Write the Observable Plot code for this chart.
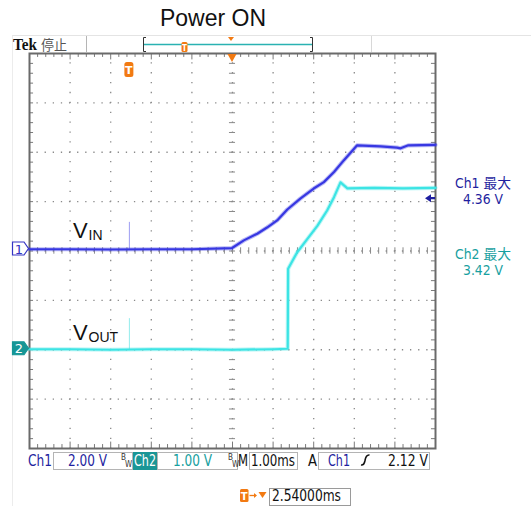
<!DOCTYPE html>
<html><head><meta charset="utf-8">
<script src="https://cdn.jsdelivr.net/npm/d3@7"></script>
<script src="https://cdn.jsdelivr.net/npm/@observablehq/plot@0.6"></script>
<style>
body{margin:0;background:#fff;}
#wrap{position:relative;width:531px;height:506px;overflow:hidden;}
</style></head>
<body><div id="wrap"></div>
<script>
// ---- data (time in ms from left screen edge, volts) ----
const title = "Power ON";
const ch1Time = [0, 1, 2, 3, 4, 4.99, 5.28, 5.61, 5.85, 6.10, 6.35, 6.67, 7.00, 7.25, 7.50, 7.74, 8.07, 8.65, 9.05, 9.14, 9.33, 10];
const ch1Volt = [0.07, 0.07, 0.06, 0.07, 0.07, 0.12, 0.43, 0.70, 0.95, 1.24, 1.68, 2.12, 2.53, 2.79, 3.20, 3.67, 4.28, 4.24, 4.19, 4.16, 4.28, 4.30];
const ch2Time = [0, 1, 2, 3, 4, 5, 6, 6.36, 6.37, 6.59, 6.84, 7.09, 7.33, 7.50, 7.66, 7.83, 8.5, 9.2, 10];
const ch2Volt = [0.01, 0.01, 0.0, 0.01, 0.01, 0.0, 0.01, 0.02, 1.64, 1.97, 2.24, 2.51, 2.82, 3.09, 3.39, 3.27, 3.28, 3.27, 3.28];
const glitchTime = [2.46];
const ch1GlitchVolt = [1.16];
const ch2GlitchVolt = [0.63];
const voltsPerDiv = {ch1: 2, ch2: 1};
const offsetDiv = {ch1: 0, ch2: -2};
const triggerTime = 2.46;
const triggerLevel = 2.12;
const ch1MaxLabel = ["Ch1 最大", "4.36 V"];
const ch2MaxLabel = ["Ch2 最大", "3.42 V"];
const statusLabels = {ch1: "2.00 V", ch2: "1.00 V", time: "1.00ms", trig: "2.12 V", pos: "2.54000ms"};
const traceLabels = [["V", "IN"], ["V", "OUT"]];

const xGrid = [1, 2, 3, 4, 6, 7, 8, 9];
const yGrid = [-3, -2, -1, 1, 2, 3];
const xMinor = d3.range(0, 51).map(i => i * 0.2);
const yMinor = d3.range(-20, 21).map(i => i * 0.2);

const ch1 = ch1Time.map((t, i) => ({t, v: ch1Volt[i]}));
const ch2 = ch2Time.map((t, i) => ({t, v: ch2Volt[i]}));
const y1 = d => d.v / voltsPerDiv.ch1 + offsetDiv.ch1;
const y2 = d => d.v / voltsPerDiv.ch2 + offsetDiv.ch2;

const BLUE = "#3737e2", CYAN = "#3ce4e4", TXTBLUE = "#1f1fa0", TEAL = "#17a0a0", ORANGE = "#f27a12";
const GRID = "#8a8a8a";
const dotH = {stroke: GRID, strokeWidth: 1.3, strokeDasharray: "1.3,6.82", strokeDashoffset: 0.65};
const dotV = {stroke: GRID, strokeWidth: 1.3, strokeDasharray: "1.3,8.58", strokeDashoffset: 0.65};
const isMajor = d => Math.abs(d - Math.round(d)) < 1e-6;

const plot = Plot.plot({
  width: 531, height: 506,
  marginTop: 53, marginBottom: 58, marginLeft: 29, marginRight: 96,
  x: {domain: [0, 10], axis: null},
  y: {domain: [-4, 4], axis: null},
  style: {background: "white", overflow: "visible"},
  marks: [
    Plot.ruleY(yGrid, dotH),
    Plot.ruleX(xGrid, dotV),
    Plot.ruleY([0], dotH),
    Plot.ruleX([5], dotV),
    Plot.ruleX(xMinor, {x: d => d, y1: -0.065, y2: 0.065, stroke: GRID, strokeWidth: 1}),
    Plot.ruleY(yMinor, {y: d => d, x1: 4.925, x2: 5.075, stroke: GRID, strokeWidth: 1}),
    Plot.ruleX(xMinor, {x: d => d, y1: 4, y2: d => isMajor(d) ? 3.87 : 3.92, stroke: "#7a7a7a", strokeWidth: 1}),
    Plot.ruleX(xMinor, {x: d => d, y1: -4, y2: d => isMajor(d) ? -3.87 : -3.92, stroke: "#7a7a7a", strokeWidth: 1}),
    Plot.ruleY(yMinor, {y: d => d, x1: 0, x2: 0.1, stroke: "#7a7a7a", strokeWidth: 1}),
    Plot.ruleY(yMinor, {y: d => d, x1: 10, x2: 9.9, stroke: "#7a7a7a", strokeWidth: 1}),
    Plot.frame({stroke: "#6a6a6a", strokeWidth: 2}),
    // glitches
    Plot.ruleX(glitchTime, {x: d => d, y1: 0.035, y2: (d, i) => ch1GlitchVolt[i] / voltsPerDiv.ch1, stroke: "#9c9cf2", strokeWidth: 1}),
    Plot.ruleX(glitchTime, {x: d => d, y1: -2, y2: (d, i) => ch2GlitchVolt[i] / voltsPerDiv.ch2 + offsetDiv.ch2, stroke: "#92ecec", strokeWidth: 1}),
    // traces
    Plot.line(ch2, {x: "t", y: y2, stroke: CYAN, strokeWidth: 4.2, strokeOpacity: 0.35}),
    Plot.line(ch2, {x: "t", y: y2, stroke: CYAN, strokeWidth: 2.2}),
    Plot.line(ch1, {x: "t", y: y1, stroke: BLUE, strokeWidth: 4.2, strokeOpacity: 0.35}),
    Plot.line(ch1, {x: "t", y: y1, stroke: BLUE, strokeWidth: 2.2}),
    // labels
    Plot.text([traceLabels[0][0]], {x: 1.07, y: 0.271, text: d => d, textAnchor: "start", lineAnchor: "bottom", fontSize: 22, fontFamily: "Liberation Sans, Arial, sans-serif", fill: "#111"}),
    Plot.text([traceLabels[0][1]], {x: 1.455, y: 0.231, text: d => d, textAnchor: "start", lineAnchor: "bottom", fontSize: 14, fontFamily: "Liberation Sans, Arial, sans-serif", fill: "#111"}),
    Plot.text([traceLabels[1][0]], {x: 1.07, y: -1.794, text: d => d, textAnchor: "start", lineAnchor: "bottom", fontSize: 22, fontFamily: "Liberation Sans, Arial, sans-serif", fill: "#111"}),
    Plot.text([traceLabels[1][1]], {x: 1.455, y: -1.842, text: d => d, textAnchor: "start", lineAnchor: "bottom", fontSize: 14, fontFamily: "Liberation Sans, Arial, sans-serif", fill: "#111"})
  ]
});
document.getElementById("wrap").appendChild(plot);

// ---- oscilloscope chrome ----
const X = plot.scale("x"), Y = plot.scale("y");
const svg = d3.select(plot);
const g = svg.append("g");
const COND = "'DejaVu Sans Condensed','Liberation Sans Narrow','Noto Sans CJK TC',sans-serif";
function txt(x, y, s, o = {}) {
  const t = g.append("text").attr("x", x).attr("y", y).text(s)
    .attr("font-family", o.family || COND).attr("font-size", o.size || 15)
    .attr("fill", o.fill || "#000").attr("text-anchor", o.anchor || "start");
  if (o.len) t.attr("textLength", o.len).attr("lengthAdjust", "spacingAndGlyphs");
  if (o.weight) t.attr("font-weight", o.weight);
  return t;
}
function line(x1, y1_, x2, y2_, c, w = 1) {
  g.append("line").attr("x1", x1).attr("y1", y1_).attr("x2", x2).attr("y2", y2_).attr("stroke", c).attr("stroke-width", w);
}
// title
txt(213, 25.5, title, {family: "'Liberation Sans',Arial,sans-serif", size: 23, anchor: "middle", fill: "#111"});
// faint outer border
line(12, 35.5, 531, 35.5, "#e4e4e4");
line(12.5, 35.5, 12.5, 506, "#ececec");
// top bar
txt(13, 50, "Tek", {family: "'Liberation Serif','DejaVu Serif',serif", size: 17, weight: "bold", len: 24, fill: "#111"});
txt(41, 50, "停止", {family: "'Noto Sans CJK TC','Noto Sans CJK SC',sans-serif", size: 14, len: 26, fill: "#555"});
line(86.5, 36, 86.5, 52, "#b5b5b5");
line(371.5, 36, 371.5, 52, "#d8d8d8");
g.append("path").attr("d", "M146,37.5 H143.5 V51.5 H146").attr("fill", "none").attr("stroke", "#333").attr("stroke-width", 1);
g.append("path").attr("d", "M310,37.5 H312.5 V51.5 H310").attr("fill", "none").attr("stroke", "#333").attr("stroke-width", 1);
line(144, 44.5, 312, 44.5, "#2ab2b2", 1.5);
g.append("rect").attr("x", 181.5).attr("y", 42).attr("width", 6).attr("height", 10).attr("rx", 1.5).attr("fill", ORANGE);
txt(184.5, 50.5, "T", {size: 8, fill: "#fff", anchor: "middle", weight: "bold"});
g.append("path").attr("d", "M228,37 L234,37 L231,41 Z").attr("fill", ORANGE);
// frame top trigger-position triangle
const xc = X.apply(5);
g.append("path").attr("d", `M${xc - 4.5},54 L${xc + 4.5},54 L${xc},62 Z`).attr("fill", ORANGE);
// trigger T marker
const xt = X.apply(triggerTime);
g.append("rect").attr("x", xt - 4.5).attr("y", 62).attr("width", 9).attr("height", 15).attr("rx", 2.5).attr("fill", ORANGE);
txt(xt, 74, "T", {size: 11, fill: "#fff", anchor: "middle", weight: "bold", family: "'DejaVu Sans',sans-serif"});
// trigger level arrow at right edge
const yl = Y.apply(triggerLevel / voltsPerDiv.ch1);
g.append("path").attr("d", `M${425},${yl} L${431},${yl - 4} L${431},${yl - 1.2} L${435},${yl - 1.2} L${435},${yl + 1.2} L${431},${yl + 1.2} L${431},${yl + 4} Z`).attr("fill", TXTBLUE);
// channel ground markers
function marker(yc, label, filled, color) {
  g.append("path").attr("d", `M12.5,${yc - 6.5} H24 L28.5,${yc} L24,${yc + 6.5} H12.5 Z`)
    .attr("fill", filled ? color : "#fff").attr("stroke", color).attr("stroke-width", 1.2);
  txt(19, yc + 5, label, {size: 13, fill: filled ? "#fff" : color, anchor: "middle", family: "'DejaVu Sans',sans-serif"});
}
marker(Y.apply(offsetDiv.ch1) - 2, "1", false, "#3434c4");
marker(Y.apply(offsetDiv.ch2) - 1, "2", true, "#169696");
// right max readouts
txt(483, 187.5, ch1MaxLabel[0], {size: 13.5, fill: TXTBLUE, anchor: "middle", len: 56});
txt(483, 204, ch1MaxLabel[1], {size: 13.5, fill: TXTBLUE, anchor: "middle", len: 40});
txt(483, 258.5, ch2MaxLabel[0], {size: 13.5, fill: TEAL, anchor: "middle", len: 56});
txt(483, 275, ch2MaxLabel[1], {size: 13.5, fill: TEAL, anchor: "middle", len: 40});
// status bar
function box(x1, y1b, x2, y2b, stroke = "#b4b4b4") {
  g.append("rect").attr("x", x1 + 0.5).attr("y", y1b + 0.5).attr("width", x2 - x1 - 1).attr("height", y2b - y1b - 1)
    .attr("fill", "none").attr("stroke", stroke).attr("stroke-width", 1);
}
const SB = 465.5;
txt(28, SB, "Ch1", {size: 16, fill: TXTBLUE, len: 24});
box(53, 452, 133, 470);
txt(68, SB, statusLabels.ch1, {size: 16, fill: TXTBLUE, len: 39});
txt(121, 460, "B", {size: 8, fill: "#333"});
txt(125, 467, "W", {size: 8, fill: "#333"});
g.append("rect").attr("x", 133).attr("y", 452).attr("width", 24).attr("height", 18).attr("fill", "#1a9696");
txt(134, SB, "Ch2", {size: 16, fill: "#fff", len: 22});
box(157, 452, 238, 470);
txt(173, SB, statusLabels.ch2, {size: 16, fill: TEAL, len: 39});
txt(228, 460, "B", {size: 8, fill: "#333"});
txt(232, 467, "W", {size: 8, fill: "#333"});
txt(238, SB, "M", {size: 16, fill: "#111", len: 10});
box(249, 452, 298, 470);
txt(251, SB, statusLabels.time, {size: 16, fill: "#111", len: 44});
txt(308, SB, "A", {size: 16, fill: "#111", len: 9});
box(318, 452, 430, 470);
txt(328, SB, "Ch1", {size: 16, fill: TXTBLUE, len: 22});
g.append("path").attr("d", `M361,${SB - 0.5} Q364,${SB} 365,${SB - 5} Q366,${SB - 11} 369.5,${SB - 10.5}`).attr("fill", "none").attr("stroke", "#111").attr("stroke-width", 1.6);
txt(388, SB, statusLabels.trig, {size: 16, fill: "#111", len: 40});
// trigger position readout
g.append("rect").attr("x", 240).attr("y", 489).attr("width", 8.5).attr("height", 13).attr("rx", 1.5).attr("fill", ORANGE);
txt(244.2, 500, "T", {size: 10, fill: "#fff", anchor: "middle", weight: "bold", family: "'DejaVu Sans',sans-serif"});
line(249.5, 495.5, 255.5, 495.5, ORANGE, 1.3);
g.append("path").attr("d", "M254,493 L257,495.5 L254,498 Z").attr("fill", ORANGE);
g.append("path").attr("d", "M258.5,492 L266.5,492 L262.5,498 Z").attr("fill", ORANGE);
box(269, 488, 351, 506, "#9a9a9a");
txt(272, 501, statusLabels.pos, {size: 16, fill: "#111", len: 69});
</script>
</body></html>
